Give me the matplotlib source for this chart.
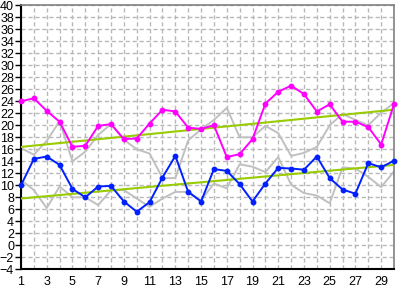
import matplotlib
matplotlib.use("Agg")
import matplotlib.pyplot as plt

days = list(range(1, 31))

# daily high / low (coloured) and the previous series (gray)
high = [24.0, 24.5, 22.4, 20.6, 16.4, 16.6, 19.9, 20.2, 17.7, 17.8,
        20.3, 22.6, 22.3, 19.6, 19.4, 20.0, 14.7, 15.2, 17.7, 23.6,
        25.6, 26.6, 25.2, 22.3, 23.5, 20.6, 20.6, 19.7, 16.8, 23.5]
low = [10.0, 14.4, 14.8, 13.4, 9.4, 8.0, 9.8, 9.9, 7.3, 5.6,
       7.2, 11.3, 14.9, 8.9, 7.3, 12.7, 12.4, 10.2, 7.3, 10.3,
       12.9, 12.8, 12.6, 14.8, 11.2, 9.3, 8.6, 13.7, 13.0, 14.1]
prev_high = [16.2, 15.1, 17.4, 20.7, 14.0, 15.6, 18.4, 20.2, 17.6, 16.0,
             15.3, 11.2, 11.2, 17.5, 19.3, 20.9, 22.9, 18.0, 18.0, 19.9,
             18.7, 14.9, 15.4, 16.4, 20.0, 21.9, 20.9, 20.0, 22.1, 23.7]
prev_low = [10.9, 9.2, 6.2, 9.8, 8.0, 8.0, 6.7, 9.2, 9.2, 7.8,
            6.4, 7.8, 8.9, 8.9, 7.5, 10.3, 9.5, 13.5, 13.1, 12.2,
            14.7, 10.1, 8.7, 8.3, 7.0, 13.0, 12.8, 11.4, 9.7, 12.3]

# trend lines (start / end values)
trend_days = [1, 30]
high_trend = [16.4, 22.6]
low_trend = [7.8, 13.4]

yticks = list(range(-4, 41, 2))
xticks = list(range(1, 30, 2))


def main():
    plt.rcParams["font.family"] = ["Liberation Sans", "DejaVu Sans"]
    fig = plt.figure(figsize=(4.01, 2.89), dpi=100)
    ax = fig.add_axes([21 / 401, 1 - 269.3 / 289, 373 / 401, 264 / 289])

    gray = "#c0c0c0"
    ax.plot(days, prev_high, color=gray, lw=1.4, zorder=2)
    ax.plot(days, prev_low, color=gray, lw=1.4, zorder=2)
    ax.plot(trend_days, high_trend, color="#99cc00", lw=1.5, zorder=3)
    ax.plot(trend_days, low_trend, color="#99cc00", lw=1.5, zorder=3)
    ax.plot(days, high, color="#ff00ff", lw=1.4, marker="o", ms=3.2,
            clip_on=False, zorder=4)
    ax.plot(days, low, color="#0020ff", lw=1.4, marker="o", ms=3.2,
            clip_on=False, zorder=4)

    ax.set_xlim(1, 30)
    ax.set_ylim(-4, 40)
    ax.set_xticks(days, minor=True)
    ax.set_xticks(xticks)
    ax.set_yticks(yticks)
    ax.grid(True, which="both", color="#b8b8b8", ls=(0, (3, 2)), lw=1.0)
    ax.set_axisbelow(True)

    ax.tick_params(axis="y", length=4, width=1, labelsize=9, pad=1)
    ax.tick_params(axis="x", which="major", length=0, labelsize=9, pad=5)
    ax.tick_params(axis="x", which="minor", length=0)

    ax.spines["left"].set_color("black")
    ax.spines["left"].set_linewidth(1.5)
    ax.spines["bottom"].set_color("black")
    ax.spines["bottom"].set_linewidth(1.5)
    ax.spines["top"].set_color("#808080")
    ax.spines["right"].set_color("#808080")
    ax.spines["top"].set_linewidth(1.2)
    ax.spines["right"].set_linewidth(1.2)

    fig.savefig("out.png", dpi=100)


if __name__ == "__main__":
    main()
